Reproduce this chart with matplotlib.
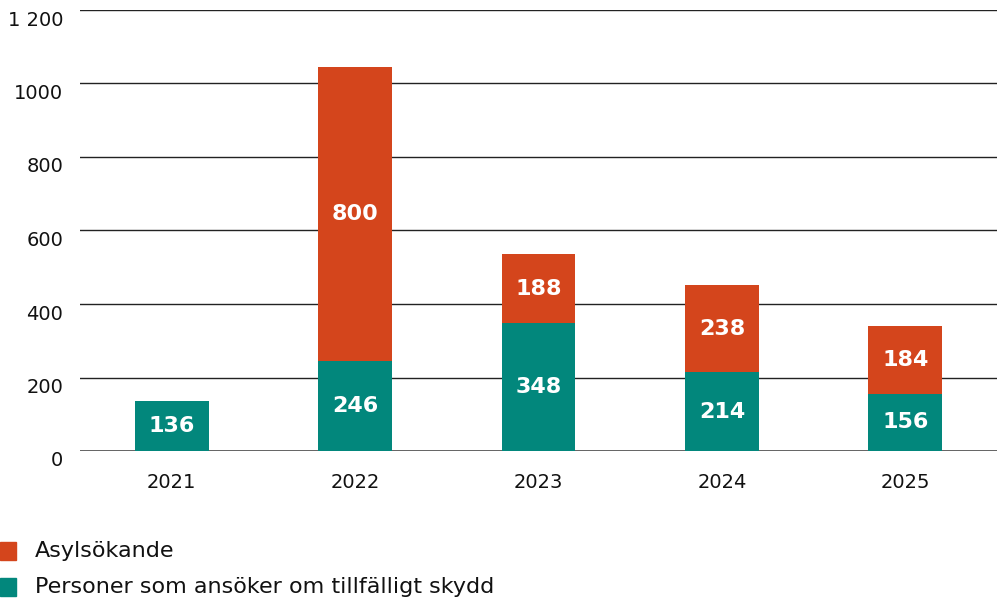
import matplotlib
matplotlib.use("Agg")
import matplotlib.pyplot as plt
import matplotlib.transforms as mtransforms
from matplotlib.patches import Rectangle

years = ["2021", "2022", "2023", "2024", "2025"]
skydd = [136, 246, 348, 214, 156]
asyl = [0, 800, 188, 238, 184]
yticks = [0, 200, 400, 600, 800, 1000, 1200]
ytick_labels = ["0", "200", "400", "600", "800", "1000", "1 200"]
series_names = ["Asylsökande", "Personer som ansöker om tillfälligt skydd"]

C_ASYL = "#D4451C"
C_SKYDD = "#02877C"

plt.rcParams['font.family'] = ['DejaVu Sans']

W, H = 999, 603
fig = plt.figure(figsize=(W / 100, H / 100), dpi=100)
ax = fig.add_axes([80 / W, 1 - 451 / H, 917 / W, 441 / H])

x = list(range(len(years)))
bw = 0.403
ax.bar(x, skydd, width=bw, color=C_SKYDD, zorder=3)
ax.bar(x, asyl, width=bw, bottom=skydd, color=C_ASYL, zorder=3)

for i in x:
    ax.text(i, skydd[i] / 2, str(skydd[i]), ha='center', va='center',
            color='white', fontsize=16, fontweight='bold', zorder=4)
    if asyl[i] > 0:
        ax.text(i, skydd[i] + asyl[i] / 2, str(asyl[i]), ha='center', va='center',
                color='white', fontsize=16, fontweight='bold', zorder=4)

ax.set_xlim(-0.5, len(years) - 0.5)
ax.set_ylim(0, 1200)
ax.set_yticks(yticks)
ax.set_yticklabels(ytick_labels)
ax.set_xticks(x)
ax.set_xticklabels(years)
ax.tick_params(axis='both', length=0, labelsize=14, colors='#111111')
ax.tick_params(axis='y', pad=12)
ax.tick_params(axis='x', pad=16)
offset = mtransforms.ScaledTranslation(0, -8 / 100, fig.dpi_scale_trans)
for lbl in ax.get_yticklabels():
    lbl.set_transform(lbl.get_transform() + offset)

for s in ax.spines.values():
    s.set_visible(False)
for t in yticks[1:]:
    ax.axhline(t, color='#222222', linewidth=1.0, zorder=1)
ax.axhline(0, color='#555555', linewidth=2.0, zorder=2)

# legend
for j, (name, col) in enumerate(zip(series_names, [C_ASYL, C_SKYDD])):
    yc = 551 + j * 36
    fig.patches.append(Rectangle((0, 1 - (yc + 9) / H), 16 / W, 18 / H,
                                 transform=fig.transFigure, color=col))
    fig.text(35 / W, 1 - yc / H, name, fontsize=16, va='center', ha='left', color='#111111')

fig.savefig("out.png", dpi=100)
